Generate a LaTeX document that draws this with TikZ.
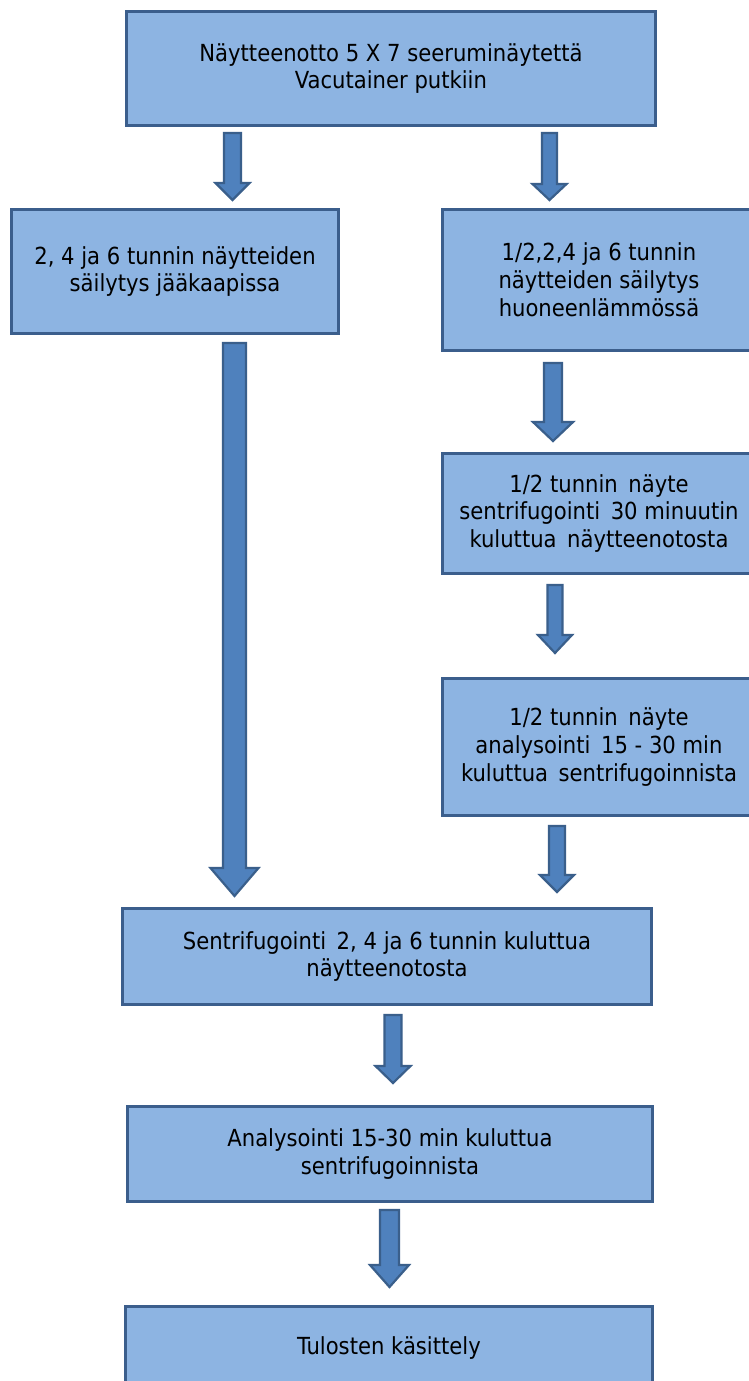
\documentclass[tikz,border=0pt]{standalone}
\usepackage{fontspec}
\setmainfont{DejaVu Sans Condensed}
\usetikzlibrary{calc}
\definecolor{boxfill}{HTML}{8DB4E2}
\definecolor{boxline}{HTML}{3B5E8C}
\definecolor{arrfill}{HTML}{4F81BD}
\definecolor{arrline}{HTML}{3A5F8B}
\newcommand{\dsp}{\hspace{0.45em}}
\tikzset{
  box/.style={draw=boxline, fill=boxfill, line width=2.8pt, align=center, inner sep=0pt,
    font=\fontsize{23.5}{27.8}\selectfont, text=black},
  fat/.style n args={3}{draw=arrline, fill=arrfill, line width=2.2pt, line join=miter,
    to path={let \p1=(\tikztostart), \p2=(\tikztotarget) in
      ({\x1-#1},{\y1}) -- ({\x1+#1},{\y1}) -- ({\x1+#1},{\y2+#3}) -- ({\x1+#2},{\y2+#3})
      -- ({\x1},{\y2}) -- ({\x1-#2},{\y2+#3}) -- ({\x1-#1},{\y2+#3}) -- cycle}}
}
\begin{document}
\begin{tikzpicture}[x=1pt,y=-1pt]
\clip (0,0) rectangle (749,1381);
\fill[white] (0,0) rectangle (749,1381);
% boxes
\node[box, minimum width=529pt, minimum height=114.5pt] (b1) at (391,68.5)
  {Näytteenotto 5 X 7 seeruminäytettä\\Vacutainer putkiin};
\node[box, minimum width=327pt, minimum height=124pt] (b2) at (175,271.5)
  {2, 4 ja 6 tunnin näytteiden\\säilytys jääkaapissa};
\node[box, minimum width=313pt, minimum height=141pt] (b3) at (599,280)
  {1/2,2,4 ja 6 tunnin\\näytteiden säilytys\\huoneenlämmössä};
\node[box, minimum width=313pt, minimum height=120pt] (b4) at (599,513.5)
  {1/2 tunnin\dsp näyte\\sentrifugointi\dsp 30 minuutin\\kuluttua\dsp näytteenotosta};
\node[box, minimum width=313pt, minimum height=137pt] (b5) at (599,747)
  {1/2 tunnin\dsp näyte\\analysointi\dsp 15 - 30 min\\kuluttua\dsp sentrifugoinnista};
\node[box, minimum width=529pt, minimum height=96pt] (b6) at (387,956.5)
  {Sentrifugointi\dsp 2, 4 ja 6 tunnin kuluttua\\näytteenotosta};
\node[box, minimum width=525pt, minimum height=95pt] (b7) at (390,1154)
  {Analysointi 15-30 min kuluttua\\sentrifugoinnista};
\node[box, minimum width=527pt, minimum height=83pt] (b8) at (389,1348)
  {Tulosten käsittely};
% arrow end points
\coordinate (a1s) at (232.5,133); \coordinate (a1e) at (232.5,200);
\coordinate (a2s) at (549.5,133); \coordinate (a2e) at (549.5,200);
\coordinate (a3s) at (234.5,343); \coordinate (a3e) at (234.5,896);
\coordinate (a4s) at (553,363);   \coordinate (a4e) at (553,441);
\coordinate (a5s) at (555,585);   \coordinate (a5e) at (555,653);
\coordinate (a6s) at (557,826);   \coordinate (a6e) at (557,892);
\coordinate (a7s) at (393,1015);  \coordinate (a7e) at (393,1083);
\coordinate (a8s) at (389.5,1210);\coordinate (a8e) at (389.5,1287);
% arrows
\draw[fat={8.5pt}{17pt}{17pt}] (a1s) to (a1e);
\draw[fat={7.5pt}{17pt}{16pt}] (a2s) to (a2e);
\draw[fat={11.5pt}{24pt}{28pt}] (a3s) to (a3e);
\draw[fat={9pt}{20pt}{19pt}] (a4s) to (a4e);
\draw[fat={7.5pt}{17pt}{18pt}] (a5s) to (a5e);
\draw[fat={8pt}{17pt}{17pt}] (a6s) to (a6e);
\draw[fat={8.5pt}{17.5pt}{17pt}] (a7s) to (a7e);
\draw[fat={9.5pt}{19.5pt}{22pt}] (a8s) to (a8e);
\end{tikzpicture}
\end{document}
